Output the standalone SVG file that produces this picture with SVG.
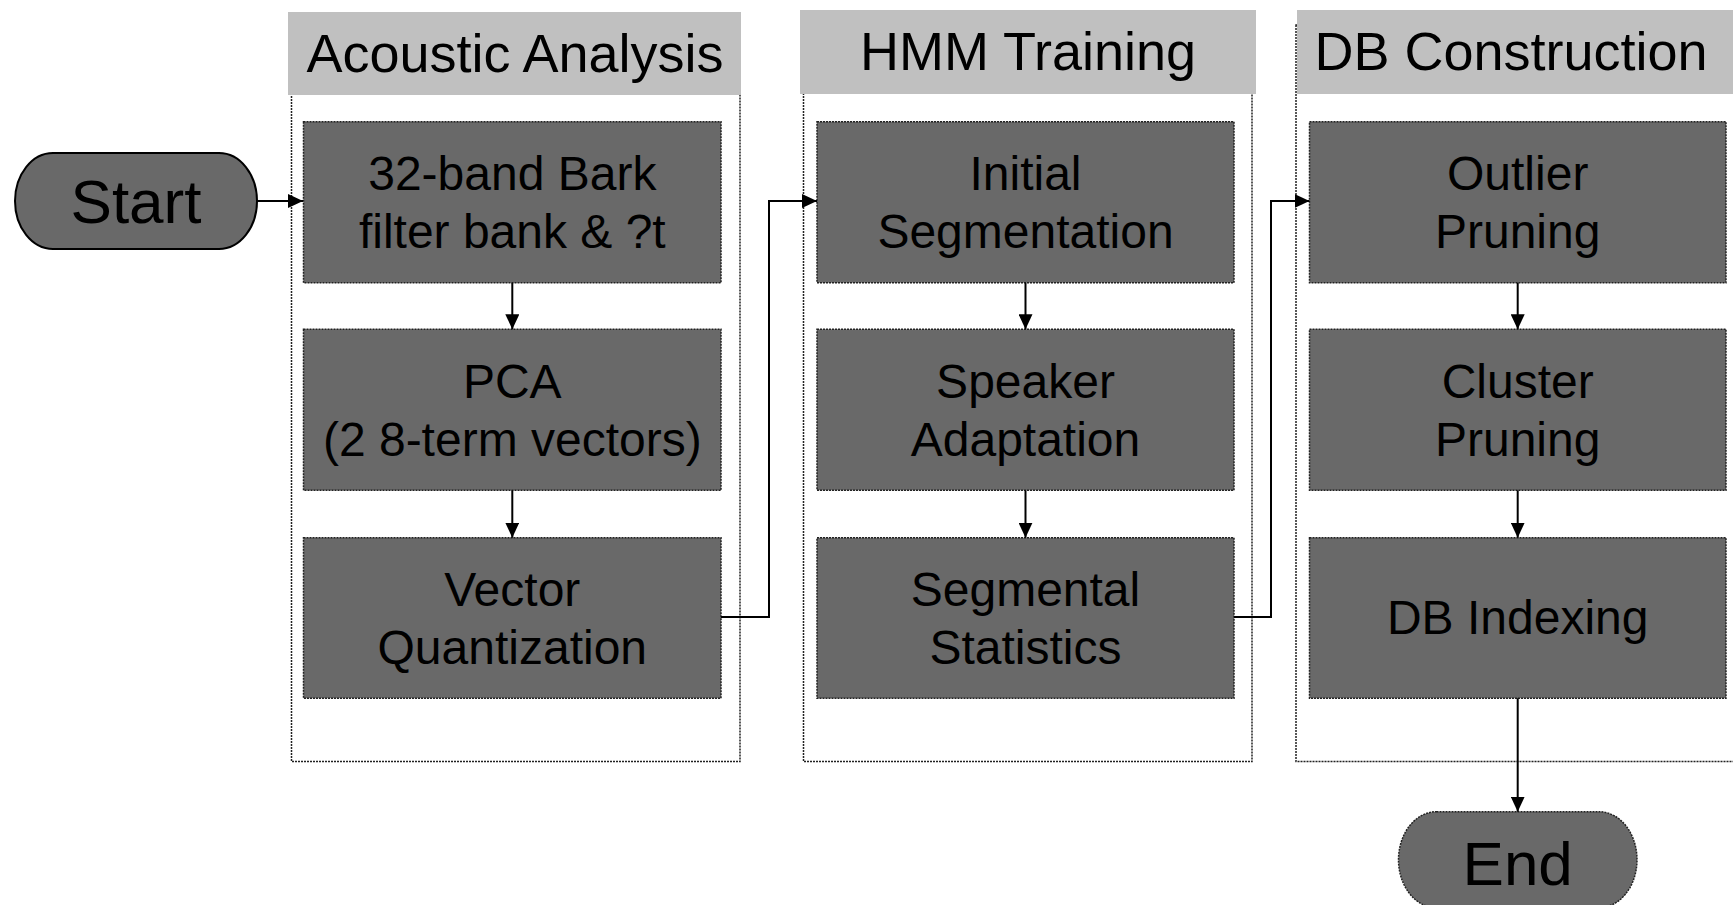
<svg xmlns="http://www.w3.org/2000/svg" width="1733" height="905" viewBox="0 0 1733 905">
<style>
text{font-family:"Liberation Sans",Arial,sans-serif;fill:#000;text-anchor:middle}
.hdr{fill:#c0c0c0;stroke:none}
.hdrt{font-size:54px}
.grp{fill:#fff;stroke:#222;stroke-width:1.5;stroke-dasharray:2 1}
.box{fill:#696969;stroke:#222;stroke-width:1.5;stroke-dasharray:2 1}
.bt{font-size:48px}
.term{fill:#696969}
.tt{font-size:62px}
.conn{fill:none;stroke:#000;stroke-width:2}
</style>
<defs>
<marker id="arr" markerUnits="userSpaceOnUse" markerWidth="15" markerHeight="14" refX="15" refY="7" orient="auto">
<path d="M0,0 L15,7 L0,14 z" fill="#000"/>
</marker>
</defs>

<g id="group-acoustic">
<rect class="grp" x="291.5" y="90" width="448.5" height="671.5"/>
<rect class="hdr" x="288" y="12" width="453" height="83"/>
<text class="hdrt" x="515" y="72">Acoustic Analysis</text>
</g>
<g id="group-hmm">
<rect class="grp" x="803.5" y="90" width="448.5" height="671.5"/>
<rect class="hdr" x="800" y="10" width="456" height="84"/>
<text class="hdrt" x="1028" y="70">HMM Training</text>
</g>
<g id="group-db">
<rect class="grp" x="1296" y="25" width="460" height="736.5"/>
<rect class="hdr" x="1297" y="10" width="436" height="84"/>
<text class="hdrt" x="1511" y="70">DB Construction</text>
</g>

<g id="start">
<rect x="15" y="153" width="242" height="96" rx="38" ry="48" class="term" stroke="#000" stroke-width="2"/>
<text class="tt" x="136" y="223">Start</text>
</g>

<g id="n-bark">
<rect class="box" x="303.5" y="121.7" width="417.5" height="161"/>
<text class="bt" x="512.3" y="190">32-band Bark</text>
<text class="bt" x="512.3" y="248">filter bank &amp; ?t</text>
</g>
<g id="n-pca">
<rect class="box" x="303.5" y="329.3" width="417.5" height="161"/>
<text class="bt" x="512.3" y="398">PCA</text>
<text class="bt" x="512.3" y="456">(2 8-term vectors)</text>
</g>
<g id="n-vq">
<rect class="box" x="303.5" y="537.7" width="417.5" height="160.5"/>
<text class="bt" x="512.3" y="606">Vector</text>
<text class="bt" x="512.3" y="664">Quantization</text>
</g>

<g id="n-initseg">
<rect class="box" x="817" y="121.7" width="417" height="161"/>
<text class="bt" x="1025.5" y="190">Initial</text>
<text class="bt" x="1025.5" y="248">Segmentation</text>
</g>
<g id="n-speaker">
<rect class="box" x="817" y="329.3" width="417" height="161"/>
<text class="bt" x="1025.5" y="398">Speaker</text>
<text class="bt" x="1025.5" y="456">Adaptation</text>
</g>
<g id="n-segstat">
<rect class="box" x="817" y="537.7" width="417" height="160.5"/>
<text class="bt" x="1025.5" y="606">Segmental</text>
<text class="bt" x="1025.5" y="664">Statistics</text>
</g>

<g id="n-outlier">
<rect class="box" x="1309.5" y="121.7" width="416.5" height="161"/>
<text class="bt" x="1517.7" y="190">Outlier</text>
<text class="bt" x="1517.7" y="248">Pruning</text>
</g>
<g id="n-cluster">
<rect class="box" x="1309.5" y="329.3" width="416.5" height="161"/>
<text class="bt" x="1517.7" y="398">Cluster</text>
<text class="bt" x="1517.7" y="456">Pruning</text>
</g>
<g id="n-dbindex">
<rect class="box" x="1309.5" y="537.7" width="416.5" height="160.5"/>
<text class="bt" x="1517.7" y="634">DB Indexing</text>
</g>

<g id="end">
<rect class="box" x="1398.5" y="811.7" width="238.5" height="96" rx="38" ry="48"/>
<text class="tt" x="1517.7" y="885">End</text>
</g>

<g id="connectors">
<path class="conn" d="M257,201 H303" marker-end="url(#arr)"/>
<path class="conn" d="M512.3,282.7 V329.3" marker-end="url(#arr)"/>
<path class="conn" d="M512.3,490.3 V537.7" marker-end="url(#arr)"/>
<path class="conn" d="M721,617 H769 V201 H817" marker-end="url(#arr)"/>
<path class="conn" d="M1025.5,282.7 V329.3" marker-end="url(#arr)"/>
<path class="conn" d="M1025.5,490.3 V537.7" marker-end="url(#arr)"/>
<path class="conn" d="M1234,617 H1271 V201 H1309.5" marker-end="url(#arr)"/>
<path class="conn" d="M1517.7,282.7 V329.3" marker-end="url(#arr)"/>
<path class="conn" d="M1517.7,490.3 V537.7" marker-end="url(#arr)"/>
<path class="conn" d="M1517.7,698.2 V811.7" marker-end="url(#arr)"/>
</g>
</svg>
